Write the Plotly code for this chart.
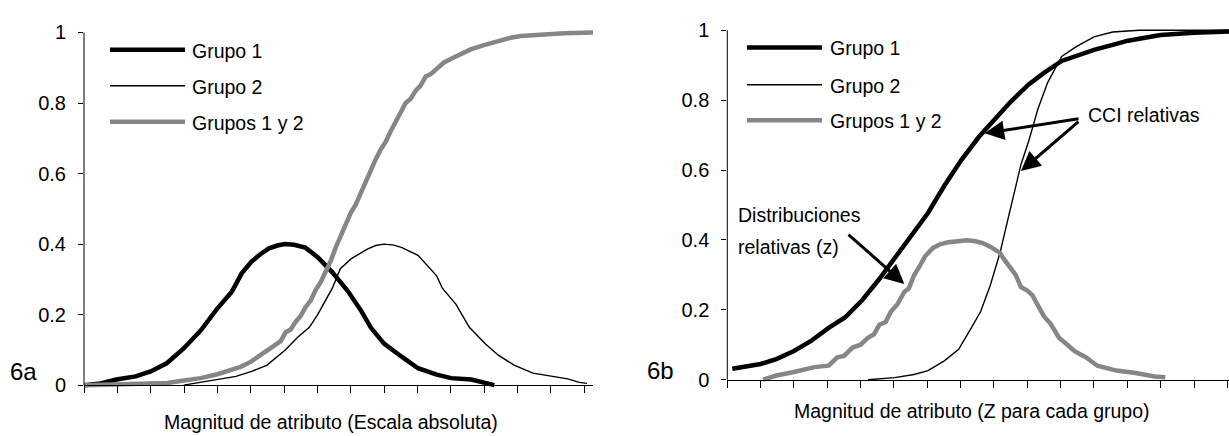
import plotly.graph_objects as go

W, H = 1229, 436
FONT = "Liberation Sans, Arial, sans-serif"

# ---------------- Panel 6a: absolute scale ----------------
g1_abs_x = [0, 0.5, 0.97, 1.55, 2.0, 2.48, 2.99, 3.5, 3.98, 4.44, 4.73, 5.02, 5.3, 5.55,
            5.8, 6.03, 6.3, 6.64, 7.01, 7.45, 7.92, 8.32, 8.6, 9.0, 9.54, 10.02, 10.58,
            11.02, 11.62, 12.03, 12.31]
g1_abs_y = [0, 0.005, 0.016, 0.025, 0.039, 0.062, 0.104, 0.155, 0.215, 0.266, 0.317,
            0.35, 0.372, 0.388, 0.396, 0.4, 0.398, 0.39, 0.363, 0.32, 0.266, 0.21,
            0.164, 0.118, 0.08, 0.048, 0.03, 0.02, 0.016, 0.005, 0]

g2_abs_x = [2.99, 3.5, 4.05, 4.56, 5.03, 5.49, 6.03, 6.41, 6.76, 7.01, 7.45, 7.69,
            8.01, 8.5, 8.75, 9.0, 9.3, 9.54, 10.02, 10.58, 10.75, 11.16, 11.56, 12.03,
            12.43, 12.9, 13.47, 14.05, 14.51, 14.86, 15.09]
g2_abs_y = [0, 0.008, 0.018, 0.025, 0.039, 0.057, 0.099, 0.136, 0.164, 0.2, 0.275,
            0.33, 0.358, 0.386, 0.396, 0.4, 0.397, 0.39, 0.368, 0.31, 0.275, 0.229,
            0.164, 0.118, 0.085, 0.057, 0.034, 0.025, 0.018, 0.008, 0.005]

g12_abs_x = [0, 1.0, 2.0, 2.5, 3.0, 3.5, 4.0, 4.4, 4.7, 5.0, 5.3, 5.6, 5.75, 5.9,
             6.05, 6.2, 6.35, 6.5, 6.65, 6.8, 6.95, 7.1, 7.25, 7.4, 7.55, 7.7, 7.85,
             8.0, 8.15, 8.3, 8.45, 8.6, 8.75, 8.9, 9.05, 9.2, 9.35, 9.5, 9.65, 9.8,
             9.95, 10.1, 10.25, 10.4, 10.6, 10.8, 11.0, 11.3, 11.6, 12.0, 12.4, 12.8,
             13.1, 13.4, 13.8, 14.4, 15.27]
g12_abs_y = [0, 0.002, 0.004, 0.006, 0.013, 0.02, 0.031, 0.042, 0.052, 0.066, 0.085,
             0.102, 0.115, 0.125, 0.15, 0.158, 0.18, 0.196, 0.222, 0.24, 0.27, 0.292,
             0.322, 0.352, 0.39, 0.425, 0.455, 0.488, 0.512, 0.545, 0.575, 0.607,
             0.64, 0.668, 0.69, 0.72, 0.745, 0.77, 0.8, 0.812, 0.835, 0.85, 0.875,
             0.882, 0.9, 0.915, 0.925, 0.94, 0.952, 0.964, 0.975, 0.985, 0.99, 0.992,
             0.997, 0.998, 1.0]

# ---------------- Panel 6b: Z scale per group ----------------
g1_z_x = [0.15, 0.67, 1.0, 1.47, 2.0, 2.5, 3.04, 3.53, 4.05, 4.56, 5.02, 5.48, 6.02,
          6.51, 7.03, 7.55, 8.03, 8.5, 9.04, 9.5, 10.03, 10.64, 11.0, 11.56, 12.02,
          13.0, 14.0, 15.05]
g1_z_y = [0.031, 0.04, 0.045, 0.059, 0.082, 0.11, 0.148, 0.178, 0.228, 0.288, 0.349,
          0.41, 0.477, 0.555, 0.63, 0.695, 0.748, 0.795, 0.845, 0.878, 0.912, 0.934,
          0.944, 0.958, 0.97, 0.986, 0.993, 0.996]

g2_z_x = [4.22, 5.02, 5.6, 6.02, 6.51, 6.94, 7.32, 7.6, 7.89, 8.18, 8.46, 8.81, 9.04,
          9.32, 9.61, 10.03, 10.47, 11.0, 11.56, 12.36, 15.05]
g2_z_y = [0, 0.006, 0.015, 0.026, 0.054, 0.087, 0.148, 0.195, 0.27, 0.363, 0.476,
          0.616, 0.682, 0.775, 0.85, 0.925, 0.953, 0.981, 0.995, 1.0, 1.0]

g12_z_x = [1.07, 1.47, 2.0, 2.61, 3.04, 3.3, 3.5, 3.76, 4.0, 4.22, 4.4, 4.56, 4.75,
           4.91, 5.1, 5.31, 5.45, 5.6, 5.8, 5.94, 6.17, 6.4, 6.63, 6.9, 7.2, 7.45,
           7.66, 7.9, 8.18, 8.3, 8.46, 8.65, 8.81, 9.0, 9.15, 9.3, 9.5, 9.7, 9.95,
           10.2, 10.41, 10.6, 10.76, 11.1, 11.4, 11.67, 12.25, 12.82, 13.14]
g12_z_y = [0, 0.012, 0.022, 0.036, 0.04, 0.064, 0.068, 0.092, 0.1, 0.12, 0.13, 0.157,
           0.165, 0.195, 0.215, 0.251, 0.262, 0.298, 0.33, 0.354, 0.377, 0.388,
           0.393, 0.397, 0.399, 0.396, 0.391, 0.38, 0.363, 0.345, 0.326, 0.3,
           0.265, 0.255, 0.242, 0.215, 0.181, 0.16, 0.12, 0.1, 0.082, 0.072, 0.064,
           0.04, 0.032, 0.026, 0.019, 0.009, 0.007]

series_names = ["Grupo 1", "Grupo 2", "Grupos 1 y 2"]
series_colors = ["#000000", "#000000", "#868686"]
series_widths = [4.5, 1.4, 4.5]

y_ticks = [0, 0.2, 0.4, 0.6, 0.8, 1]
y_tick_text = ["0", "0.2", "0.4", "0.6", "0.8", "1"]
x_ticks = list(range(16))

fig = go.Figure()

panels = [
    ("x", "y", [(g1_abs_x, g1_abs_y), (g2_abs_x, g2_abs_y), (g12_abs_x, g12_abs_y)]),
    ("x2", "y2", [(g1_z_x, g1_z_y), (g2_z_x, g2_z_y), (g12_z_x, g12_z_y)]),
]
for xa, ya, data in panels:
    for (xs, ys), name, col, wd in zip(data, series_names, series_colors, series_widths):
        fig.add_trace(go.Scatter(x=xs, y=ys, mode="lines", name=name, xaxis=xa, yaxis=ya,
                                 line=dict(color=col, width=wd), showlegend=False,
                                 hoverinfo="skip"))


def px_x(p):
    return p / W


def px_y(p):
    return 1 - p / H


# plot geometry (pixels)
L_X0, L_X1, L_Y0, L_Y1, L_XMAX = 84, 593, 388.3, 29.0, 15.27
R_X0, R_X1, R_Y0, R_Y1, R_XMAX = 727.3, 1229, 382.7, 26.7, 15.05
PAD = 0.02


def y_domain(y0, y1):
    unit = y0 - y1
    return [px_y(y0 + PAD * unit), px_y(y1 - PAD * unit)]


axis_common = dict(showgrid=False, zeroline=False, ticks="outside", tickcolor="black",
                   tickfont=dict(family=FONT, size=20, color="black"))

fig.update_layout(
    width=W, height=H, margin=dict(l=0, r=0, t=0, b=0),
    paper_bgcolor="white", plot_bgcolor="white", showlegend=False,
    xaxis=dict(domain=[px_x(L_X0), px_x(L_X1)], range=[0, L_XMAX], anchor="free",
               position=px_y(L_Y0), tickvals=x_ticks, showticklabels=False, ticklen=7,
               showline=True, linecolor="black", linewidth=1, **axis_common),
    yaxis=dict(domain=y_domain(L_Y0, L_Y1), range=[-PAD, 1 + PAD], anchor="x",
               tickvals=y_ticks, ticktext=y_tick_text, ticklen=5, ticklabelstandoff=8,
               showline=False, **axis_common),
    xaxis2=dict(domain=[px_x(R_X0), px_x(R_X1)], range=[0, R_XMAX], anchor="free",
                position=px_y(R_Y0), tickvals=x_ticks, showticklabels=False, ticklen=7,
                showline=True, linecolor="black", linewidth=1, **axis_common),
    yaxis2=dict(domain=y_domain(R_Y0, R_Y1), range=[-PAD, 1 + PAD], anchor="x2",
                tickvals=y_ticks, ticktext=y_tick_text, ticklen=5, ticklabelstandoff=8,
                showline=False, **axis_common),
)

# vertical axis lines spanning 0..1
for x0, yref in [(L_X0, "y"), (R_X0, "y2")]:
    fig.add_shape(type="line", xref="paper", yref=yref, x0=px_x(x0), x1=px_x(x0),
                  y0=0, y1=1, line=dict(color="black", width=1))

# legends drawn as line samples + labels
legend_rows = [
    (110, 185, 190, [46.7, 83.3, 120.0]),
    (747, 822, 828, [44.3, 82.3, 118.3]),
]
for lx0, lx1, tx, rows in legend_rows:
    for ry, name, col, wd in zip(rows, series_names, series_colors, series_widths):
        fig.add_shape(type="line", xref="paper", yref="paper", x0=px_x(lx0), x1=px_x(lx1),
                      y0=px_y(ry), y1=px_y(ry), line=dict(color=col, width=wd))
        fig.add_annotation(xref="paper", yref="paper", x=px_x(tx), y=px_y(ry + 1),
                           text=name, showarrow=False, xanchor="left", yanchor="middle",
                           font=dict(family=FONT, size=19.5, color="black"))

# panel tags
for tag, cx, cy in [("6a", 23.5, 374), ("6b", 660, 373)]:
    fig.add_annotation(xref="paper", yref="paper", x=px_x(cx), y=px_y(cy), text=tag,
                       showarrow=False, xanchor="center", yanchor="middle",
                       font=dict(family=FONT, size=24, color="black"))

# axis titles
for title, cx, cy in [("Magnitud de atributo (Escala absoluta)", 331, 426),
                      ("Magnitud de atributo (Z para cada grupo)", 971.5, 415)]:
    fig.add_annotation(xref="paper", yref="paper", x=px_x(cx), y=px_y(cy), text=title,
                       showarrow=False, xanchor="center", yanchor="middle",
                       font=dict(family=FONT, size=19.5, color="black"))

# callouts in panel 6b
note_font = dict(family=FONT, size=19.5, color="black")
fig.add_annotation(xref="x2", yref="y2", x=10.76, y=0.757, text="CCI relativas",
                   showarrow=False, xanchor="left", yanchor="middle", font=note_font)
fig.add_annotation(xref="paper", yref="paper", x=px_x(736), y=px_y(215),
                   text="Distribuciones", showarrow=False, xanchor="left",
                   yanchor="middle", font=note_font)
fig.add_annotation(xref="paper", yref="paper", x=px_x(736), y=px_y(248),
                   text="relativas (z)", showarrow=False, xanchor="left",
                   yanchor="middle", font=note_font)

arrows = [
    ((7.72, 0.705), (10.58, 0.747)),
    ((8.81, 0.597), (10.58, 0.742)),
    ((5.31, 0.274), (3.59, 0.419)),
]
for (hx, hy), (tx, ty) in arrows:
    fig.add_annotation(xref="x2", yref="y2", axref="x2", ayref="y2", x=hx, y=hy,
                       ax=tx, ay=ty, text="", showarrow=True, arrowhead=2,
                       arrowsize=1.3, arrowwidth=3, arrowcolor="black")

fig.write_html("out.html")
